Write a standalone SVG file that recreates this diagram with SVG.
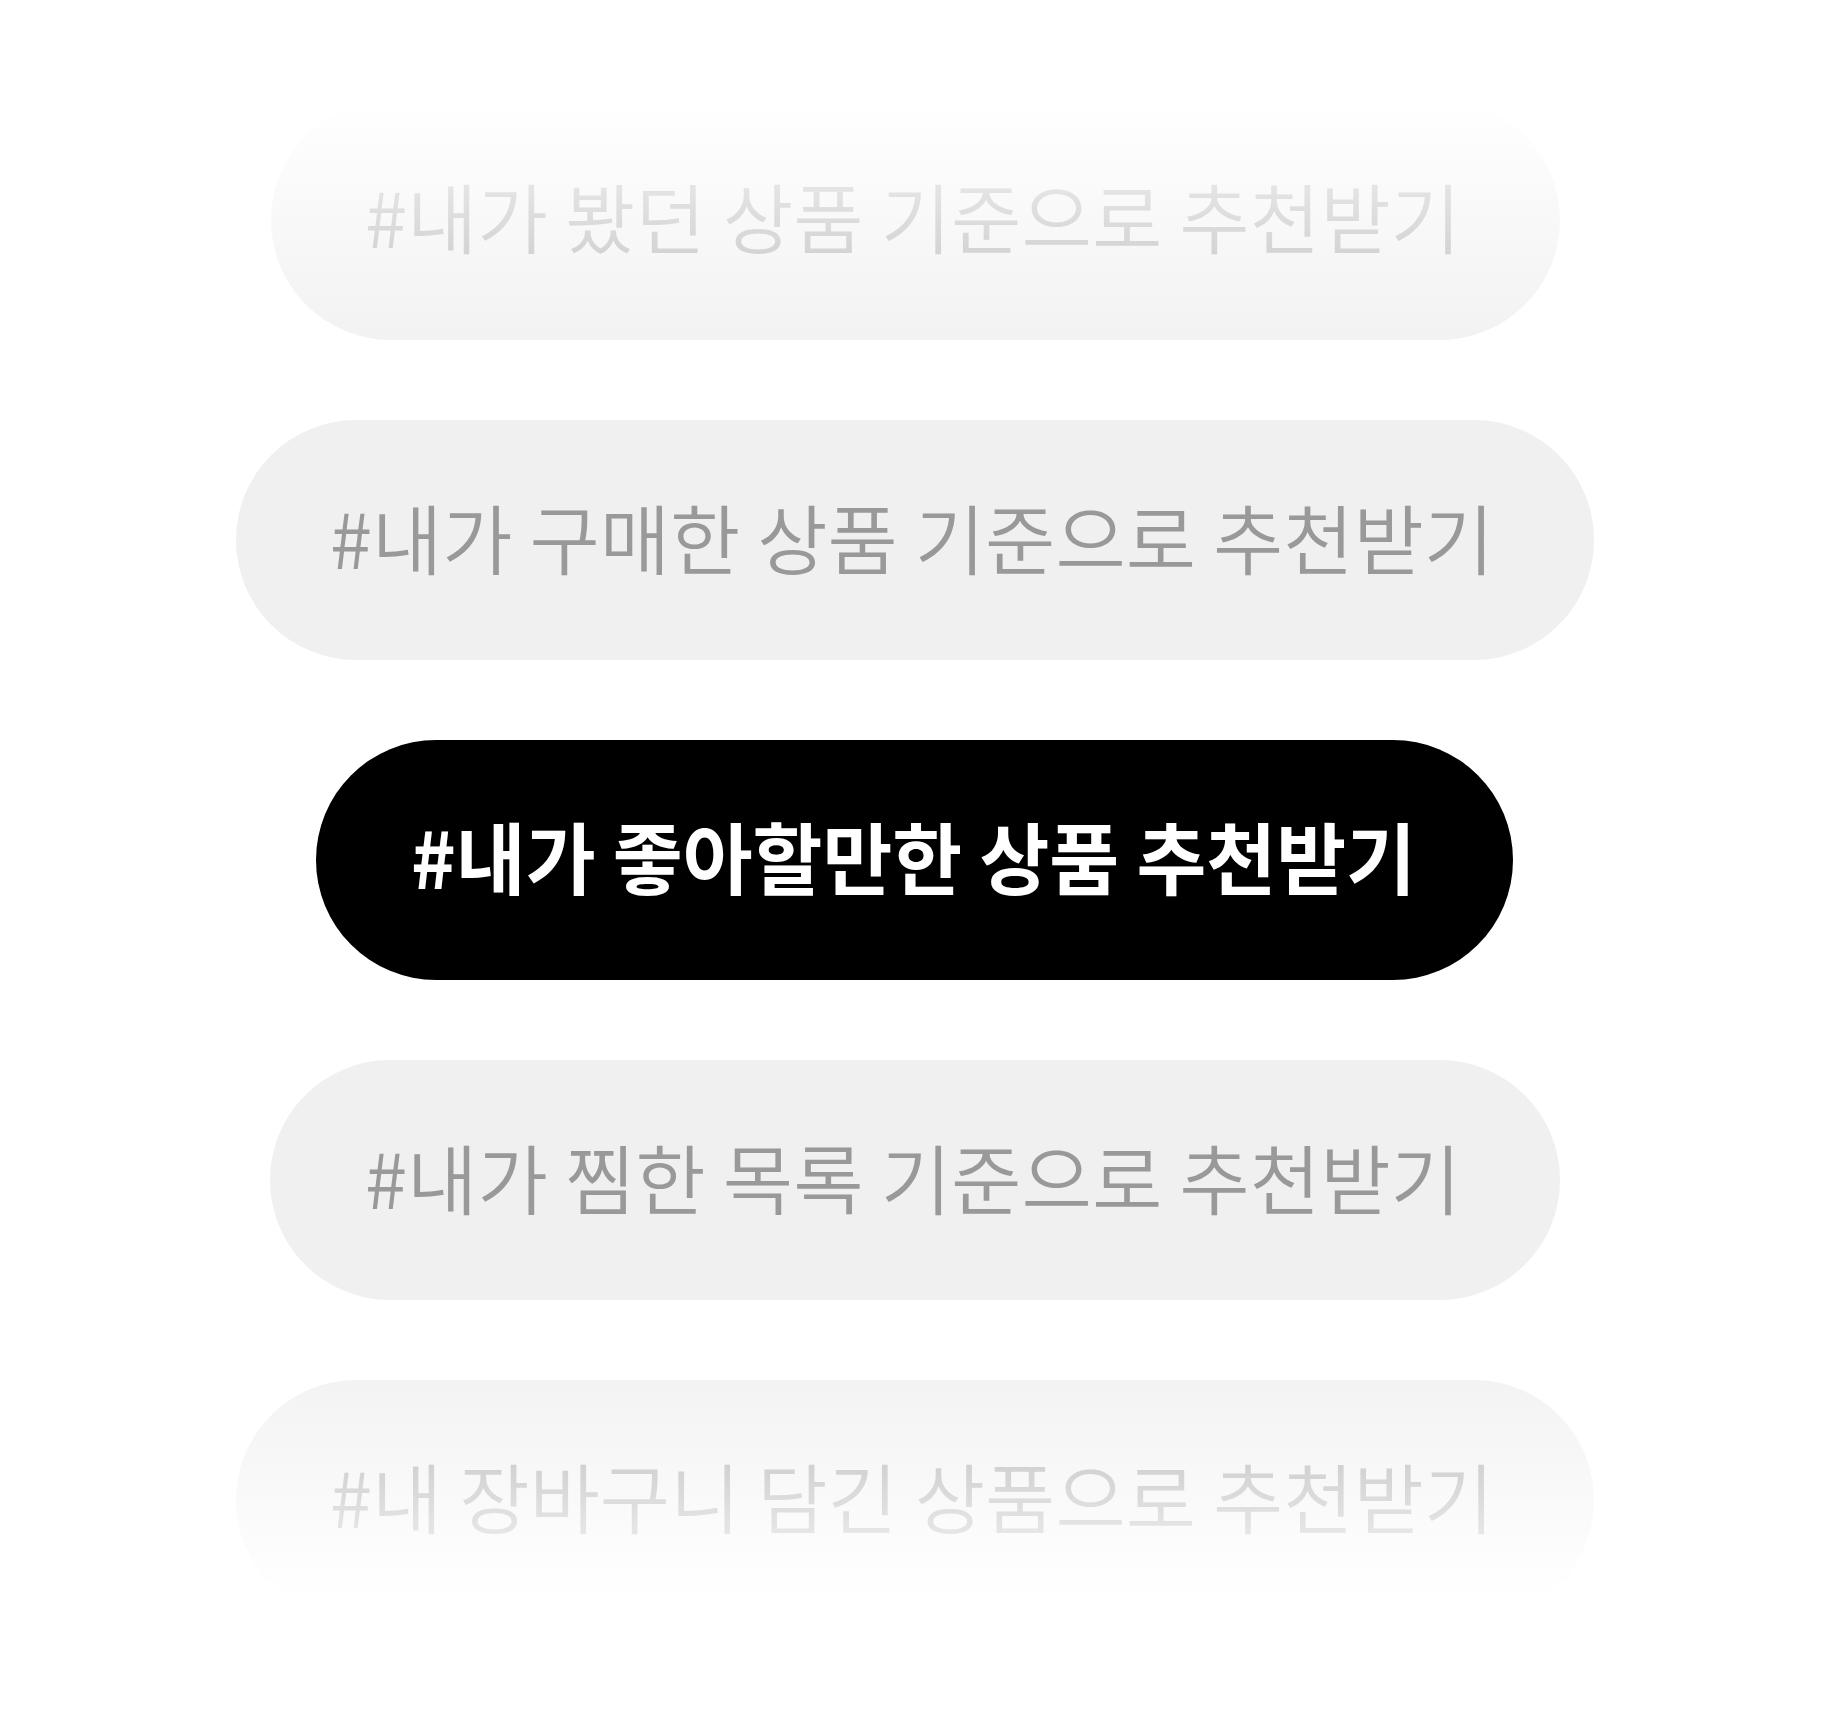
<svg xmlns="http://www.w3.org/2000/svg" width="1830" height="1720" viewBox="0 0 1830 1720">
<style>
.t{font-family:"Noto Sans CJK KR","Noto Sans CJK SC",sans-serif;font-size:76px;font-weight:350}
.b{font-family:"Noto Sans CJK KR","Noto Sans CJK SC",sans-serif;font-size:78px;font-weight:700;fill:#ffffff}
.mid{fill:#f0f0f0}
.g{fill:#999999}
</style>
<defs>
<linearGradient id="p1" gradientUnits="userSpaceOnUse" x1="0" y1="100" x2="0" y2="340">
<stop offset="0" stop-color="#ffffff"/><stop offset="1" stop-color="#f2f2f2"/>
</linearGradient>
<linearGradient id="t1" gradientUnits="userSpaceOnUse" x1="0" y1="180" x2="0" y2="260">
<stop offset="0" stop-color="#e6e6e6"/><stop offset="1" stop-color="#d2d2d2"/>
</linearGradient>
<linearGradient id="p5" gradientUnits="userSpaceOnUse" x1="0" y1="1380" x2="0" y2="1600">
<stop offset="0" stop-color="#f3f3f3"/><stop offset="1" stop-color="#ffffff"/>
</linearGradient>
<linearGradient id="t5" gradientUnits="userSpaceOnUse" x1="0" y1="1460" x2="0" y2="1540">
<stop offset="0" stop-color="#d0d0d0"/><stop offset="1" stop-color="#e8e8e8"/>
</linearGradient>
</defs>
<rect width="1830" height="1720" fill="#ffffff"/>
<g id="item1">
<rect x="271" y="100" width="1289" height="240" rx="120" fill="url(#p1)"/>
<text class="t" x="365" y="248" textLength="1096" lengthAdjust="spacingAndGlyphs" fill="url(#t1)">#내가 봤던 상품 기준으로 추천받기</text>
</g>
<g id="item2">
<rect class="mid" x="236" y="420" width="1358" height="240" rx="120"/>
<text class="t g" x="330" y="569" textLength="1164" lengthAdjust="spacingAndGlyphs">#내가 구매한 상품 기준으로 추천받기</text>
</g>
<g id="item3">
<rect x="316" y="740" width="1197" height="240" rx="120" fill="#000000"/>
<text class="b" x="411" y="889" textLength="1005" lengthAdjust="spacingAndGlyphs">#내가 좋아할만한 상품 추천받기</text>
</g>
<g id="item4">
<rect class="mid" x="270" y="1060" width="1290" height="240" rx="120"/>
<text class="t g" x="365" y="1209" textLength="1096" lengthAdjust="spacingAndGlyphs">#내가 찜한 목록 기준으로 추천받기</text>
</g>
<g id="item5">
<rect x="236" y="1380" width="1358" height="240" rx="120" fill="url(#p5)"/>
<text class="t" x="330" y="1528" textLength="1164" lengthAdjust="spacingAndGlyphs" fill="url(#t5)">#내 장바구니 담긴 상품으로 추천받기</text>
</g>
<g id="connectors"/>
</svg>
